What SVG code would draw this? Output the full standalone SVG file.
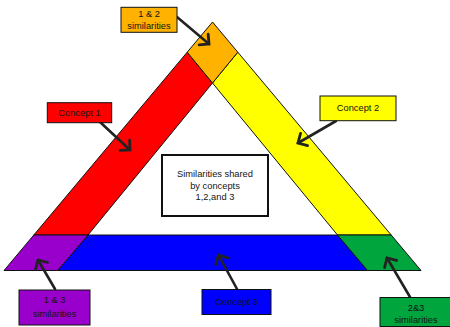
<svg xmlns="http://www.w3.org/2000/svg" width="450" height="327" viewBox="0 0 450 327">
<style>
  .band { stroke: #111; stroke-width: 1; stroke-linejoin: round; }
  .box { stroke: #111; stroke-width: 1; }
  .lbl { font-family: "Liberation Sans", Arial, sans-serif; font-size: 9.3px; fill: #141414; text-anchor: middle; }
  .conn { stroke: #222; stroke-width: 2.6; fill: none; stroke-linecap: round; marker-end: url(#chev); }
</style>
<defs>
  <marker id="chev" markerUnits="userSpaceOnUse" viewBox="0 0 14 14" refX="11" refY="7" markerWidth="14" markerHeight="14" orient="auto" overflow="visible">
    <path d="M4,0 L11,7 L4,14" fill="none" stroke="#222" stroke-width="2.8" stroke-linecap="round" stroke-linejoin="miter"/>
  </marker>
</defs>
<rect width="450" height="327" fill="#ffffff"/>

<g id="triangle">
  <polygon id="concept1-band" class="band" fill="#ff0000" points="187.2,52.2 212.5,83 88,235 33.8,235"/>
  <polygon id="concept2-band" class="band" fill="#ffff00" points="237.8,52.2 212.5,83 337.5,235 391.2,235"/>
  <polygon id="concept3-band" class="band" fill="#0000ff" points="88,235 337.5,235 367.5,270.5 57.5,270.5"/>
  <polygon id="sim12-region" class="band" fill="#ffb300" points="212.5,22 237.8,52.2 212.5,83 187.2,52.2"/>
  <polygon id="sim13-region" class="band" fill="#9900cc" points="33.8,235 88,235 57.5,270.5 4,270.5"/>
  <polygon id="sim23-region" class="band" fill="#00a53e" points="337.5,235 391.2,235 421,270.5 367.5,270.5"/>
</g>

<g id="connectors">
  <line class="conn" x1="177" y1="17" x2="209" y2="44"/>
  <line class="conn" x1="100" y1="122" x2="130" y2="150"/>
  <line class="conn" x1="336" y1="121" x2="298" y2="143"/>
  <line class="conn" x1="55" y1="289" x2="38" y2="260"/>
  <line class="conn" x1="410" y1="297" x2="387" y2="258"/>
  <line class="conn" x1="237" y1="289" x2="218.5" y2="255"/>
</g>

<g id="label-12">
  <rect class="box" x="121" y="7.3" width="56" height="25" fill="#ffb300"/>
  <text class="lbl" x="149" y="16.5">1 &amp; 2</text>
  <text class="lbl" x="149" y="28.5">similarities</text>
</g>

<g id="label-concept1">
  <rect class="box" x="47.3" y="102.7" width="64.4" height="20" fill="#ff0000"/>
  <text class="lbl" x="79.5" y="116">Concept 1</text>
</g>

<g id="label-concept2">
  <rect class="box" x="320" y="96" width="76" height="24.7" fill="#ffff00"/>
  <text class="lbl" x="358" y="110.5">Concept 2</text>
</g>

<g id="label-center">
  <rect x="162" y="155" width="106" height="61" fill="#ffffff" stroke="#111" stroke-width="2"/>
  <text class="lbl" x="215" y="177">Similarities shared</text>
  <text class="lbl" x="215" y="188.5">by concepts</text>
  <text class="lbl" x="215" y="200">1,2,and 3</text>
</g>

<g id="label-13">
  <rect class="box" x="19" y="290" width="71" height="35" fill="#9900cc"/>
  <text class="lbl" x="54.5" y="303">1 &amp; 3</text>
  <text class="lbl" x="54.5" y="316.5">similarities</text>
</g>

<g id="label-23">
  <rect class="box" x="380" y="297.5" width="75" height="29" fill="#00a53e"/>
  <text class="lbl" x="416" y="310.5">2&amp;3</text>
  <text class="lbl" x="416" y="322.5">similarities</text>
</g>

<g id="label-concept3">
  <rect class="box" x="202" y="289.5" width="69" height="25" fill="#0000ff"/>
  <text class="lbl" x="236.5" y="305">Concept 3</text>
</g>
</svg>
